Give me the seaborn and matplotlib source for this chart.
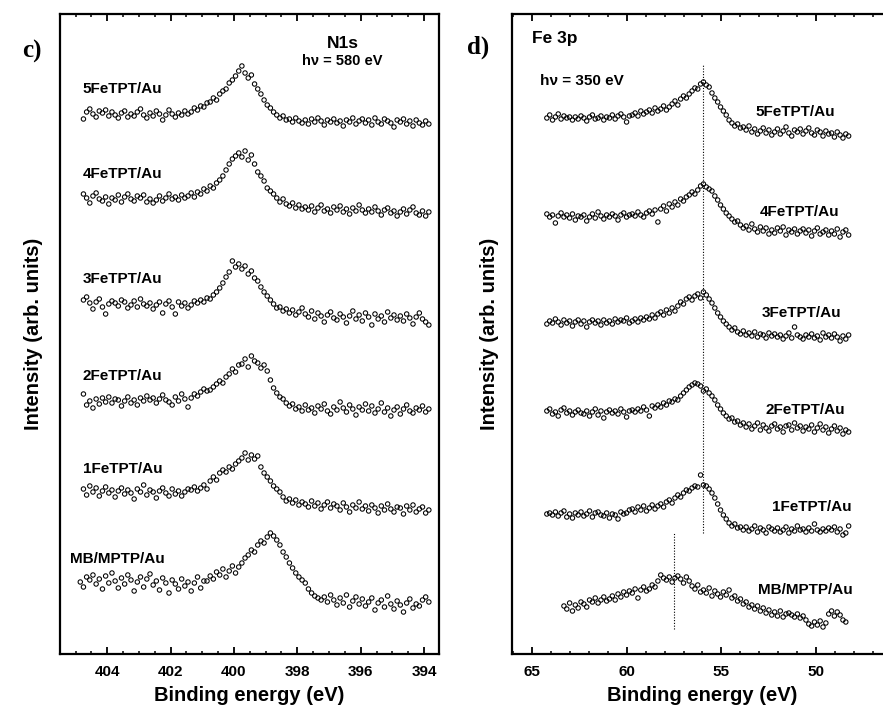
import numpy as np
import pandas as pd
import matplotlib
matplotlib.use("Agg")
import matplotlib.pyplot as plt
from matplotlib.ticker import MultipleLocator
import seaborn as sns


# N1s spectra (hv = 580 eV), 0.1 eV steps, intensity in arb. units

n1s_samples = ["5FeTPT/Au", "4FeTPT/Au", "3FeTPT/Au", "2FeTPT/Au", "1FeTPT/Au", "MB/MPTP/Au"]
n1s_start = [404.75, 404.75, 404.75, 404.75, 404.75, 404.85]
n1s_step = 0.1

n1s_5fetpt = [-3, 4, 7, 2, -1, 5, 3, 6, 0, 4,
              1, -2, 3, 5, -1, 2, 0, 4, 7, 1,
              -2, 3, 0, 5, 2, -4, 1, 6, 2, -1,
              3, 1, 5, 2, 4, 8, 6, 10, 9, 13,
              14, 18, 16, 22, 25, 27, 33, 36, 40, 45,
              50, 43, 38, 41, 32, 27, 22, 16, 11, 8,
              4, 1, -2, 0, -4, -3, -6, -2, -5, -7,
              -4, -8, -3, -6, -2, -5, -9, -4, -6, -3,
              -7, -5, -10, -4, -6, -2, -8, -5, -3, -7,
              -4, -9, -2, -6, -8, -3, -5, -7, -11, -4,
              -6, -3, -8, -5, -10, -4, -7, -9, -5, -8]

n1s_4fetpt = [6, 2, -3, 4, 7, 1, -1, 3, -4, 2,
              0, 5, -2, 3, 6, 1, -1, 4, 2, 5,
              -2, 1, -3, 0, 4, -1, 2, 6, 1, 3,
              0, 5, 2, 4, 7, 3, 8, 6, 11, 9,
              14, 12, 17, 20, 24, 30, 36, 41, 44, 47,
              43, 49, 40, 45, 36, 28, 24, 19, 12, 9,
              6, 2, -2, 1, -4, -6, -3, -8, -5, -9,
              -7, -10, -6, -12, -8, -5, -11, -9, -13, -7,
              -10, -6, -12, -9, -14, -8, -11, -5, -10, -13,
              -9, -12, -7, -11, -15, -10, -8, -13, -11, -16,
              -12, -9, -14, -10, -7, -13, -15, -11, -16, -12]

n1s_3fetpt = [5, 8, 2, -4, 3, 6, -2, -9, 1, 4,
              2, -1, 5, 3, -3, 0, 4, -2, 6, 1,
              -1, 2, -4, 0, 3, -8, 1, 4, -2, -9,
              3, -1, 2, -3, 0, 4, 2, 5, 3, 7,
              6, 10, 13, 17, 22, 28, 33, 44, 38, 41,
              36, 39, 31, 34, 27, 24, 18, 13, 9, 5,
              1, -3, -2, -6, -4, -8, -5, -10, -7, -3,
              -9, -12, -6, -14, -8, -11, -17, -10, -7, -13,
              -15, -9, -12, -18, -11, -6, -14, -10, -16, -8,
              -12, -20, -9, -14, -11, -17, -7, -13, -10, -15,
              -11, -16, -9, -13, -19, -12, -8, -14, -17, -20]

n1s_2fetpt = [8, -3, 1, -6, 3, -2, 4, 0, 5, -1,
              3, 2, -4, 1, 5, -1, 2, -3, 4, 1,
              6, 2, 4, -1, 3, 7, 2, 0, -3, 5,
              1, 8, 3, -5, 4, 8, 6, 10, 13, 11,
              12, 15, 18, 21, 19, 25, 28, 33, 30, 37,
              38, 43, 35, 46, 41, 39, 34, 37, 31, 22,
              14, 9, 5, 3, -1, -4, -2, -7, -5, -9,
              -3, -8, -6, -11, -4, -7, -2, -9, -12, -5,
              -8, 0, -6, -10, -3, -7, -13, -5, -8, -2,
              -9, -4, -11, -7, -1, -10, -6, -14, -8, -5,
              -12, -7, -3, -9, -11, -6, -8, -4, -10, -7]

n1s_1fetpt = [4, -2, 7, 1, 5, -3, 2, 6, 0, 3,
              -4, 2, 5, -1, 3, 0, -6, 4, 1, 8,
              -2, 3, 1, -5, 2, 5, 0, -3, 4, -1,
              2, -3, 1, 4, 3, 6, 2, 5, 8, 4,
              12, 16, 13, 20, 23, 21, 26, 24, 29, 32,
              35, 40, 33, 38, 34, 37, 26, 20, 16, 12,
              7, 4, 1, -4, -8, -6, -10, -7, -12, -9,
              -11, -14, -8, -13, -10, -16, -12, -9, -15, -11,
              -13, -17, -10, -14, -19, -12, -15, -9, -16, -13,
              -18, -12, -15, -20, -13, -17, -11, -16, -19, -14,
              -15, -21, -13, -17, -12, -19, -16, -14, -20, -17]

n1s_mb = [3, -2, 8, 5, 10, 1, 6, -4, 9, 2,
          12, 4, -3, 7, 1, 10, 5, -6, 3, 8,
          -2, 6, 11, 0, 4, -5, 7, 2, -8, 5,
          1, -4, 6, -1, 3, -6, 2, 8, -3, 4,
          4, 9, 6, 13, 10, 16, 8, 14, 19, 12,
          18, 22, 27, 30, 35, 33, 40, 44, 42, 48,
          52, 49, 45, 40, 33, 28, 22, 17, 12, 8,
          5, 2, -4, -8, -11, -13, -15, -12, -17, -10,
          -15, -20, -13, -18, -10, -22, -16, -12, -19, -14,
          -21, -17, -13, -25, -18, -15, -22, -11, -19, -24,
          -16, -20, -27, -18, -14, -23, -19, -21, -15, -12,
          -17]


# Fe 3p spectra (hv = 350 eV), 0.15 eV steps

fe3p_samples = ["5FeTPT/Au", "4FeTPT/Au", "3FeTPT/Au", "2FeTPT/Au", "1FeTPT/Au", "MB/MPTP/Au"]
fe3p_start = [64.2, 64.2, 64.2, 64.2, 64.2, 63.3]
fe3p_step = 0.15

fe3p_5fetpt = [0, 3, -2, 1, 4, -1, 2, 0, 1, -2,
               1, -1, 2, 0, -3, 1, 3, -1, 0, 2,
               -2, 1, 0, 3, -1, 2, 4, 1, -4, 2,
               3, 5, 2, 7, 4, 6, 8, 5, 10, 7,
               9, 12, 8, 11, 14, 17, 13, 19, 22, 20,
               24, 27, 30, 29, 34, 36, 33, 31, 25, 20,
               16, 11, 7, 3, -2, -5, -8, -6, -10, -9,
               -12, -8, -14, -11, -16, -13, -10, -15, -12, -17,
               -14, -11, -16, -13, -9, -15, -18, -12, -14, -11,
               -16, -13, -10, -15, -17, -12, -14, -18, -13, -16,
               -15, -19, -14, -17, -20, -16, -18]

fe3p_4fetpt = [4, 1, 3, -5, 2, 5, 1, 3, 0, 4,
               -2, 2, 1, 3, -3, 1, 4, 0, 6, 2,
               -1, 3, 1, 4, 2, -2, 3, 5, 1, 3,
               4, 2, 6, 3, 1, 5, 7, 4, 8, -4,
               9, 12, 7, 14, 11, 16, 13, 19, 17, 21,
               23, 26, 24, 28, 32, 34, 31, 29, 27, 22,
               18, 13, 9, 5, 2, -1, -4, -3, -7, -10,
               -8, -12, -6, -11, -14, -9, -13, -10, -16, -12,
               -15, -10, -13, -9, -17, -12, -14, -11, -16, -13,
               -11, -15, -12, -18, -13, -10, -16, -14, -12, -17,
               -13, -16, -11, -19, -14, -12, -17]

fe3p_3fetpt = [-1, 2, 0, 4, 1, -2, 3, 0, 2, -3,
               1, 3, -1, 2, -4, 1, 3, 0, 2, -2,
               3, 0, 2, -1, 4, 1, 3, 2, 5, 0,
               2, 4, 1, 5, 3, 6, 4, 8, 5, 9,
               11, 8, 13, 10, 15, 12, 17, 21, 19, 24,
               26, 23, 27, 29, 25, 31, 28, 24, 20, 15,
               10, 6, 2, -1, -4, -7, -5, -9, -11, -8,
               -12, -10, -13, -9, -14, -11, -12, -15, -10, -13,
               -11, -14, -12, -16, -13, -10, -15, -4, -12, -14,
               -16, -12, -14, -11, -15, -13, -17, -10, -14, -12,
               -15, -11, -14, -18, -13, -16, -12]

fe3p_2fetpt = [2, 4, -1, 1, -3, 3, 5, 0, 2, -2,
               1, 3, 0, -1, 2, -3, 1, 4, -2, 2,
               -5, 1, 3, 0, 2, -1, 4, 1, -4, 2,
               3, 1, 4, 2, 6, 3, -3, 7, 5, 8,
               6, 10, 8, 12, 11, 14, 13, 17, 20, 23,
               26, 28, 30, 29, 27, 22, 24, 20, 17, 13,
               8, 4, 0, -3, -6, -5, -9, -8, -12, -10,
               -14, -11, -16, -13, -10, -17, -12, -15, -18, -13,
               -11, -16, -14, -19, -13, -12, -17, -10, -15, -13,
               -18, -14, -16, -12, -19, -15, -11, -17, -14, -20,
               -16, -13, -18, -15, -21, -17, -19]

fe3p_1fetpt = [1, 2, 0, 3, -1, 2, 4, -2, 1, -3,
               2, 0, 3, -1, 1, 4, -2, 2, 3, 0,
               -1, 2, -3, 1, 0, -4, 3, 1, 2, 5,
               6, 3, 8, 5, 9, 4, 7, 10, 6, 9,
               11, 8, 13, 15, 12, 17, 20, 18, 22, 25,
               24, 27, 29, 28, 40, 30, 29, 26, 22, 17,
               11, 5, 0, -4, -8, -11, -9, -13, -12, -15,
               -12, -16, -14, -11, -17, -13, -15, -18, -12, -14,
               -16, -13, -17, -15, -12, -18, -14, -16, -11, -15,
               -14, -17, -13, -16, -9, -15, -17, -14, -16, -13,
               -15, -12, -17, -14, -20, -18, -11]

fe3p_mb = [-1, -4, 2, -6, 0, -3, 3, 1, -2, 5,
           3, 7, 2, 5, 8, 4, 6, 9, 5, 11,
           8, 13, 10, 14, 12, 16, 7, 15, 18, 14,
           16, 20, 18, 24, 30, 27, 25, 28, 23, 27,
           29, 26, 22, 28, 24, 19, 16, 20, 13, 15,
           12, 17, 9, 14, 11, 8, 13, 10, 15, 7,
           9, 4, 6, 1, 3, -2, 0, -4, -1, -6,
           -3, -8, -5, -10, -7, -11, -6, -12, -9, -8,
           -10, -12, -9, -13, -11, -15, -19, -21, -17, -20,
           -16, -22, -18, -9, -6, -11, -7, -10, -15, -17]

# peak positions marked in the Fe 3p panel (eV)
fe3p_peak_fetpt = 55.97
fe3p_peak_mb = 57.49


# build long tables, stacking curves with vertical offsets

n1s_values = [n1s_5fetpt, n1s_4fetpt, n1s_3fetpt, n1s_2fetpt, n1s_1fetpt, n1s_mb]
fe3p_values = [fe3p_5fetpt, fe3p_4fetpt, fe3p_3fetpt, fe3p_2fetpt, fe3p_1fetpt, fe3p_mb]
n1s_offsets = [538, 454, 349, 252, 161, 69]
fe3p_offsets = [536, 436, 331, 241, 139, 49]


def stack(samples, starts, step, values, offsets):
    frames = []
    for name, e0, vals, off in zip(samples, starts, values, offsets):
        energy = e0 - step * np.arange(len(vals))
        frames.append(pd.DataFrame({'energy': energy,
                                    'intensity': np.array(vals) + off,
                                    'sample': name}))
    return pd.concat(frames, ignore_index=True)


df_n1s = stack(n1s_samples, n1s_start, n1s_step, n1s_values, n1s_offsets)
df_fe3p = stack(fe3p_samples, fe3p_start, fe3p_step, fe3p_values, fe3p_offsets)


# plotting

sns.set_style("ticks")
plt.rcParams['font.family'] = ['Liberation Sans', 'DejaVu Sans']
plt.rcParams['font.weight'] = 'bold'
plt.rcParams['axes.labelweight'] = 'bold'
for key in ['text.color', 'axes.labelcolor', 'xtick.color', 'ytick.color', 'axes.edgecolor']:
    plt.rcParams[key] = 'black'

fig = plt.figure(figsize=(8.83, 7.11), dpi=100)
ax_c = fig.add_axes([60 / 883, 57 / 711, 379.3 / 883, 640 / 711])
ax_d = fig.add_axes([512.3 / 883, 57 / 711, 380 / 883, 640 / 711])

marker_kws = dict(marker='o', s=10, facecolor='none', edgecolor='black',
                  linewidth=0.75, legend=False)
sns.scatterplot(data=df_n1s, x='energy', y='intensity', ax=ax_c, **marker_kws)
sns.scatterplot(data=df_fe3p, x='energy', y='intensity', ax=ax_d, **marker_kws)

ax_d.vlines(fe3p_peak_fetpt, 121, 589, colors='black', linestyles=(0, (1, 1.5)), linewidth=0.8)
ax_d.vlines(fe3p_peak_mb, 25, 121, colors='black', linestyles=(0, (1, 1.5)), linewidth=0.8)

# axes cosmetics
ax_c.set_xlim(405.49, 393.52)
ax_c.xaxis.set_major_locator(MultipleLocator(2))
ax_c.xaxis.set_minor_locator(MultipleLocator(0.5))
ax_d.set_xlim(66.02, 46.0)
ax_d.xaxis.set_major_locator(MultipleLocator(5))
ax_d.xaxis.set_minor_locator(MultipleLocator(1))

for ax in (ax_c, ax_d):
    ax.set_ylim(0, 640)
    ax.set_yticks([])
    ax.tick_params(axis='x', which='both', direction='in', top=True, bottom=True)
    ax.tick_params(axis='x', which='major', length=5, width=1.3, pad=8, labelsize=11)
    ax.tick_params(axis='x', which='minor', length=2.5, width=1.1)
    for sp in ax.spines.values():
        sp.set_linewidth(1.6)
    ax.set_xlabel('Binding energy (eV)', fontsize=14.5, labelpad=5)
    ax.set_ylabel('Intensity (arb. units)', fontsize=14.5)

ax_c.yaxis.set_label_coords(-0.045, 0.5)
ax_d.yaxis.set_label_coords(-0.035, 0.5)

# curve labels
n1s_label_x = [404.77, 404.77, 404.77, 404.77, 404.77, 405.18]
n1s_label_y = [565, 480, 375, 278, 185, 95]
for name, lx, ly in zip(n1s_samples, n1s_label_x, n1s_label_y):
    ax_c.text(lx, ly, name, ha='left', va='center', fontsize=11)

fe3p_label_x = [51.11, 50.9, 50.81, 50.6, 50.23, 50.59]
fe3p_label_y = [542, 442, 341, 244, 147, 64]
for name, lx, ly in zip(fe3p_samples, fe3p_label_x, fe3p_label_y):
    ax_d.text(lx, ly, name, ha='center', va='center', fontsize=11)

ax_c.text(396.56, 611, 'N1s', ha='center', va='center', fontsize=12.5)
ax_c.text(396.59, 593, 'h\u03bd = 580 eV', ha='center', va='center', fontsize=10.5)
ax_d.text(64.98, 616, 'Fe 3p', ha='left', va='center', fontsize=12.5)
ax_d.text(64.56, 573, 'h\u03bd = 350 eV', ha='left', va='center', fontsize=11)

fig.text(22 / 883, 1 - 51 / 711, 'c)', family=['Liberation Serif', 'DejaVu Serif'],
         fontweight='bold', fontsize=18, ha='left', va='center')
fig.text(467 / 883, 1 - 47 / 711, 'd)', family=['Liberation Serif', 'DejaVu Serif'],
         fontweight='bold', fontsize=18, ha='left', va='center')

fig.savefig('out.png', dpi=100)
